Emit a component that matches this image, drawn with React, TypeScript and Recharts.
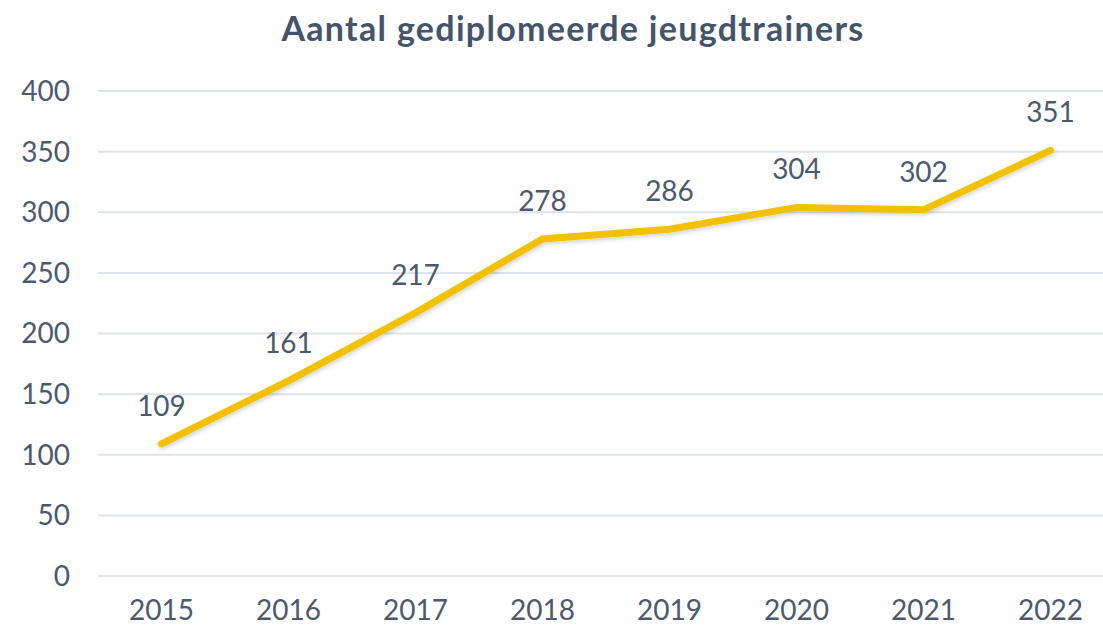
import React from 'react';
import { LineChart, Line, XAxis, YAxis, CartesianGrid, LabelList } from 'recharts';

const years = ['2015', '2016', '2017', '2018', '2019', '2020', '2021', '2022'];
const trainers = [109, 161, 217, 278, 286, 304, 302, 351];
const yTicks = [0, 50, 100, 150, 200, 250, 300, 350, 400];
const bandTicks = [0, 1, 2, 3, 4, 5, 6, 7, 8];

const data = years.map((year, i) => ({ year, trainers: trainers[i], idx: i + 0.5 }));

const textColor = '#4b5a6e';
const font = 'Lato, "Noto Sans", sans-serif';

const App = () => {
  return (
    <div style={{ position: 'absolute', left: 0, top: 0, width: 1103, height: 627, overflow: 'hidden', background: '#fff', fontFamily: font }}>
      <div
        style={{
          position: 'absolute',
          left: 0,
          width: 1146,
          top: 7,
          textAlign: 'center',
          fontSize: 34,
          fontWeight: 700,
          letterSpacing: 1.3,
          color: '#44546a',
        }}
      >
        Aantal gediplomeerde jeugdtrainers
      </div>
      <LineChart width={1130} height={627} data={data} margin={{ top: 91, right: 16, bottom: 0, left: 0 }}>
        <defs>
          <filter id="lineShadow" x="-5%" y="-20%" width="110%" height="140%">
            <feDropShadow dx="1" dy="2" stdDeviation="2" floodColor="#000" floodOpacity="0.18" />
          </filter>
        </defs>
        <CartesianGrid vertical={false} stroke="#dfe4ea" strokeWidth={2} />
        <XAxis
          xAxisId="band"
          type="number"
          dataKey="idx"
          domain={[0, 8]}
          ticks={bandTicks}
          tick={false}
          tickSize={9}
          height={0}
          axisLine={{ stroke: '#d9dfe6', strokeWidth: 2 }}
          tickLine={{ stroke: '#d9dfe6', strokeWidth: 2 }}
        />
        <XAxis
          dataKey="year"
          height={51}
          padding={{ left: 63.5, right: 63.5 }}
          axisLine={false}
          tickLine={false}
          tickSize={0}
          tickMargin={24}
          tick={{ fill: textColor, fontSize: 28, fontFamily: font }}
        />
        <YAxis
          domain={[0, 400]}
          ticks={yTicks}
          width={98}
          axisLine={false}
          tickLine={false}
          tickSize={0}
          tickMargin={28}
          tick={{ fill: textColor, fontSize: 28, fontFamily: font }}
        />
        <Line
          type="linear"
          dataKey="trainers"
          stroke="#f2c200"
          strokeWidth={7}
          strokeLinecap="round"
          dot={false}
          filter="url(#lineShadow)"
          isAnimationActive={false}
        >
          <LabelList dataKey="trainers" position="top" offset={28} fill={textColor} fontSize={28} fontFamily={font} />
        </Line>
      </LineChart>
    </div>
  );
};

export default App;
